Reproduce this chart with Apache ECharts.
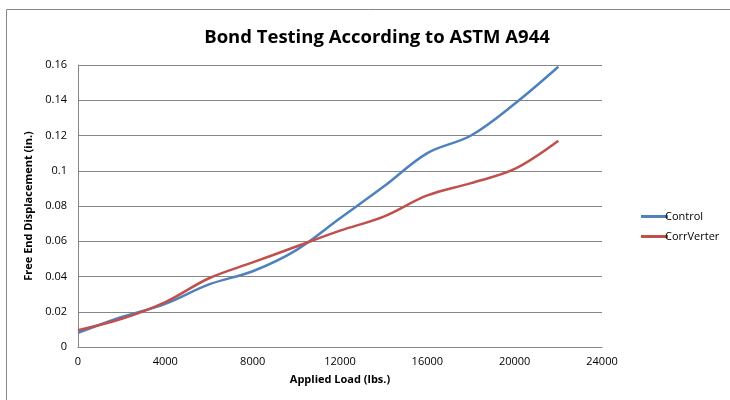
<!DOCTYPE html>
<html><head><meta charset="utf-8">
<script src="https://cdn.jsdelivr.net/npm/echarts@6/dist/echarts.min.js"></script>
<style>html,body{margin:0;padding:0;background:#fff}#c{width:730px;height:400px}</style>
</head><body><div id="c"></div>
<script>
const loads = [0, 2000, 4000, 6000, 8000, 10000, 12000, 14000, 16000, 18000, 20000, 22000];
const control = [0.008, 0.017, 0.0245, 0.0355, 0.043, 0.055, 0.073, 0.091, 0.110, 0.120, 0.138, 0.159];
const corrVerter = [0.0095, 0.016, 0.0255, 0.039, 0.048, 0.057, 0.066, 0.074, 0.086, 0.093, 0.101, 0.117];
const seriesNames = ['Control', 'CorrVerter'];

const chart = echarts.init(document.getElementById('c'));
const font = 'Open Sans';
chart.setOption({
  animation: false,
  title: {
    text: 'Bond Testing According to ASTM A944',
    left: 372, top: 23, textAlign: 'center',
    textStyle: {fontFamily: font, fontSize: 18.5, fontWeight: 'bold', color: '#000'}
  },
  graphic: [{type: 'rect', shape: {x: 6.5, y: 9.5, width: 740, height: 400},
    style: {fill: 'none', stroke: '#868686', lineWidth: 1}}],
  legend: {
    orient: 'vertical', left: 636, top: 206, itemGap: 9,
    itemWidth: 27, itemHeight: 3, icon: 'rect',
    textStyle: {fontFamily: font, fontSize: 11, color: '#000', padding: [0,0,0,-8]},
    data: seriesNames
  },
  grid: {left: 78, right: 128, top: 65, bottom: 53},
  xAxis: {
    type: 'value', min: 0, max: 24000, interval: 4000,
    name: 'Applied Load (lbs.)', nameLocation: 'middle', nameGap: 27,
    nameTextStyle: {fontFamily: font, fontSize: 11, fontWeight: 'bold', color: '#000'},
    axisLine: {lineStyle: {color: '#868686'}},
    axisTick: {show: false},
    axisLabel: {fontFamily: font, fontSize: 11, color: '#000', margin: 9, formatter: v => String(v)},
    splitLine: {show: false}
  },
  yAxis: {
    type: 'value', min: 0, max: 0.16, interval: 0.02,
    name: 'Free End Displacement (in.)', nameLocation: 'middle', nameGap: 44,
    nameTextStyle: {fontFamily: font, fontSize: 11, fontWeight: 'bold', color: '#000'},
    axisLine: {show: true, lineStyle: {color: '#868686'}},
    axisTick: {show: false},
    axisLabel: {fontFamily: font, fontSize: 11, color: '#000', margin: 11},
    splitLine: {lineStyle: {color: '#868686'}}
  },
  series: [
    {name: seriesNames[0], type: 'line', smooth: 0.35, symbol: 'none',
     lineStyle: {color: '#4F81BD', width: 2.5}, itemStyle: {color: '#4F81BD'},
     data: loads.map((x, i) => [x, control[i]])},
    {name: seriesNames[1], type: 'line', smooth: 0.35, symbol: 'none',
     lineStyle: {color: '#C0504D', width: 2.5}, itemStyle: {color: '#C0504D'},
     data: loads.map((x, i) => [x, corrVerter[i]])}
  ]
});
</script></body></html>
